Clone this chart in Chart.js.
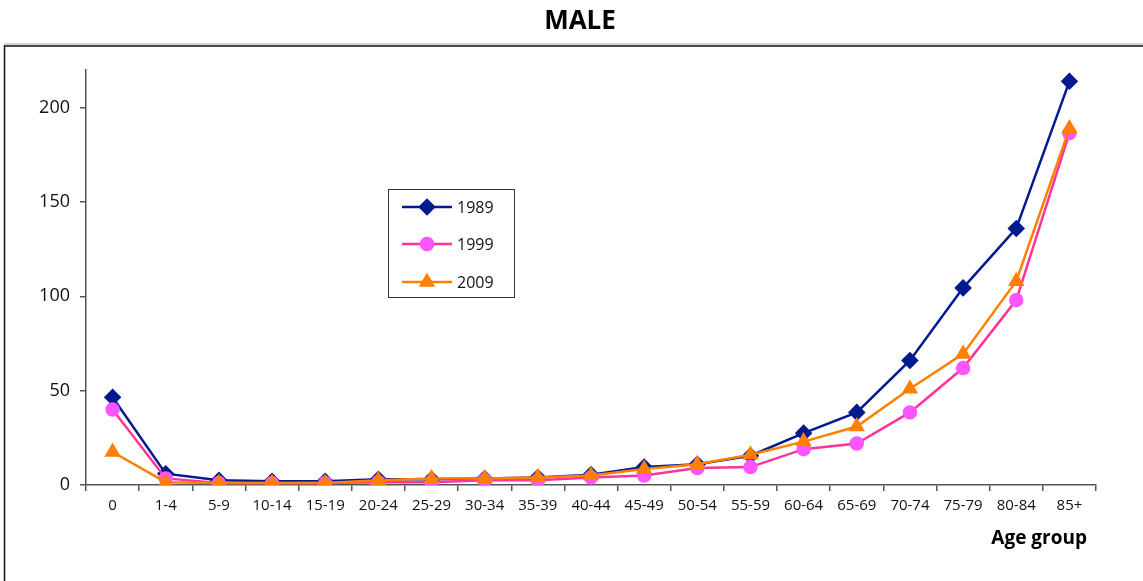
<!DOCTYPE html>
<html lang="en">
<head>
<meta charset="UTF-8">
<title>MALE</title>
<script src="https://cdn.jsdelivr.net/npm/chart.js"></script>
<style>
  html, body { margin: 0; padding: 0; background: #fff; }
  #wrap { position: relative; width: 1143px; height: 581px; }
</style>
</head>
<body>
<div id="wrap"><canvas id="maleChart" width="1143" height="581"></canvas></div>
<script>
// age groups and values
const ageGroups = ['0', '1-4', '5-9', '10-14', '15-19', '20-24', '25-29', '30-34', '35-39',
  '40-44', '45-49', '50-54', '55-59', '60-64', '65-69', '70-74', '75-79', '80-84', '85+'];
const v1989 = [46.5, 6, 2.5, 2, 2, 3, 3, 3.5, 4, 5.5, 9.5, 11, 15.5, 27.5, 38.5, 66, 104.5, 136, 214];
const v1999 = [40, 3.5, 1, 1, 1, 1.5, 1.5, 2.5, 2.5, 4, 5, 9, 9.5, 19, 22, 38.5, 62, 98, 186.5];
const v2009 = [17.5, 1.5, 1, 1, 1, 2.5, 3.5, 3.5, 4, 5, 8.5, 11, 16, 23, 31, 51, 69.5, 108, 189];
const yTicks = [0, 50, 100, 150, 200];

const chartTitle = 'MALE';
const xAxisTitle = 'Age group';
const FONT = "'Open Sans', 'Noto Sans', sans-serif";

// frame round the plot, chart title and axis title
const framePlugin = {
  id: 'frame',
  beforeDraw(chart) {
    const c = chart.ctx;
    c.save();
    c.strokeStyle = '#aaa';
    c.lineWidth = 1;
    c.beginPath(); c.moveTo(4, 44); c.lineTo(1143, 44); c.stroke();
    c.strokeStyle = '#111';
    c.lineWidth = 1.5;
    c.beginPath();
    c.moveTo(4.5, 600); c.lineTo(4.5, 46); c.lineTo(1150, 46);
    c.stroke();

    c.fillStyle = '#000';
    c.textBaseline = 'middle';
    c.textAlign = 'center';
    c.font = 'bold 26px ' + FONT;
    c.fillText(chartTitle, 580, 22);

    c.textAlign = 'right';
    c.font = 'bold 19px ' + FONT;
    c.fillText(xAxisTitle, 1087, 539);
    c.restore();
  }
};

// boxed legend inside the plot
const boxLegend = {
  id: 'boxLegend',
  afterDraw(chart) {
    const c = chart.ctx;
    const x0 = 388, y0 = 189, w = 126, h = 108;
    c.save();
    c.fillStyle = '#fff';
    c.fillRect(x0, y0, w, h);
    c.strokeStyle = '#333';
    c.lineWidth = 1;
    c.strokeRect(x0 + 0.5, y0 + 0.5, w, h);
    const rows = [207, 244, 282];
    chart.data.datasets.forEach((ds, i) => {
      const y = rows[i];
      c.strokeStyle = ds.borderColor;
      c.lineWidth = 2.5;
      c.beginPath(); c.moveTo(402, y); c.lineTo(452, y); c.stroke();
      c.fillStyle = ds.pointBackgroundColor;
      c.strokeStyle = ds.pointBorderColor;
      Chart.helpers.drawPoint(c, {
        pointStyle: ds.pointStyle, radius: ds.pointRadius, borderWidth: 1, rotation: 0
      }, 427, y);
      c.fillStyle = '#111';
      c.font = '16px ' + FONT;
      c.textBaseline = 'middle';
      c.textAlign = 'left';
      c.fillText(ds.label, 457, y + 1);
    });
    c.restore();
  }
};

new Chart(document.getElementById('maleChart'), {
  type: 'line',
  data: {
    labels: ageGroups,
    datasets: [
      {
        label: '1989', data: v1989, order: 2,
        borderColor: '#001A8F', borderWidth: 2.5,
        pointStyle: 'rectRot', pointRadius: 7, pointHoverRadius: 7,
        pointBackgroundColor: '#001A8F', pointBorderColor: '#001A8F'
      },
      {
        label: '1999', data: v1999, order: 1,
        borderColor: '#FF3399', borderWidth: 2.5,
        pointStyle: 'circle', pointRadius: 6, pointHoverRadius: 6,
        pointBackgroundColor: '#FF55FF', pointBorderColor: '#FF55FF'
      },
      {
        label: '2009', data: v2009, order: 0,
        borderColor: '#FF8000', borderWidth: 2.5,
        pointStyle: 'triangle', pointRadius: 7, pointHoverRadius: 7,
        pointBackgroundColor: '#FF8000', pointBorderColor: '#FF8000'
      }
    ]
  },
  options: {
    responsive: false,
    animation: false,
    events: [],
    layout: { padding: { left: 0, right: 47, top: 70, bottom: 0 } },
    plugins: {
      legend: { display: false },
      tooltip: { enabled: false },
      title: { display: false }
    },
    scales: {
      x: {
        offset: true,
        grid: { offset: true, drawOnChartArea: false, drawTicks: true, tickLength: 6, color: '#555', lineWidth: 1.5 },
        border: { display: true, color: '#555', width: 1.5 },
        ticks: { color: '#111', font: { family: FONT, size: 15 }, padding: 6, maxRotation: 0, autoSkip: false },
        afterFit(scale) { scale.height = 96; }
      },
      y: {
        min: 0, max: 220,
        afterBuildTicks(scale) { scale.ticks = yTicks.map(v => ({ value: v })); },
        grid: { drawOnChartArea: false, drawTicks: true, tickLength: 6, color: '#555', lineWidth: 1.5 },
        border: { display: true, color: '#555', width: 1.5 },
        ticks: { color: '#111', font: { family: FONT, size: 18 }, padding: 10 },
        afterFit(scale) { scale.width = 86; }
      }
    }
  },
  plugins: [framePlugin, boxLegend]
});
</script>
</body>
</html>
